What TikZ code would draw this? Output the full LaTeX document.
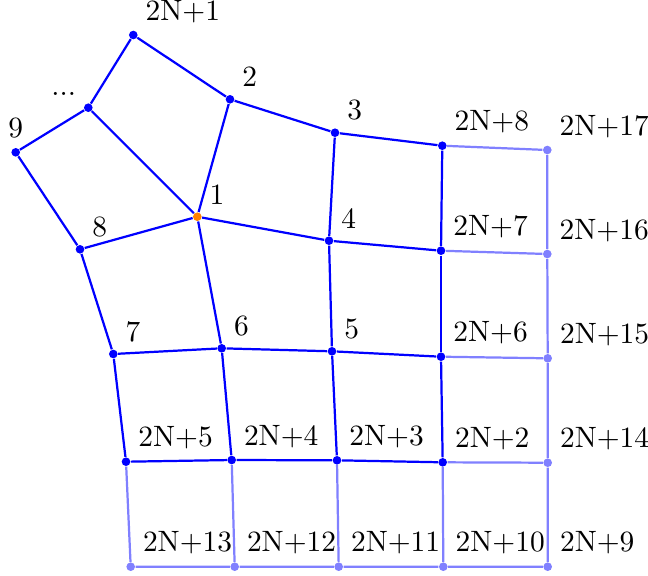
\documentclass[tikz,border=0pt]{standalone}
\begin{document}
\begin{tikzpicture}[x=0.36pt,y=-0.36pt,
  dot/.style={circle,fill=blue,inner sep=0pt,minimum size=3.1pt},
  ldot/.style={circle,fill=blue!50,inner sep=0pt,minimum size=3.1pt},
  odot/.style={circle,fill=orange,inner sep=0pt,minimum size=3.1pt},
  lbl/.style={text=black,font=\fontsize{10.6}{12}\selectfont,inner sep=3pt},
  dk/.style={draw=blue,line width=0.8pt},
  lt/.style={draw=blue!50,line width=0.8pt}]
\useasboundingbox (0,0) rectangle (648,575);
% nodes
\node[dot,label={[lbl]above right:2N+1}] (m1) at (133.3,35) {};
\node[dot,label={[lbl]above right:2}] (n2) at (230,99.3) {};
\node[dot,label={[lbl]above left:...}] (dd) at (88.3,107.7) {};
\node[dot,label={[lbl]above:9}] (n9) at (15.7,152.3) {};
\node[odot,label={[lbl]above right:1}] (n1) at (197.3,216.7) {};
\node[dot,label={[lbl]above right:8}] (n8) at (80,249.3) {};
\node[dot,label={[lbl]above right:3}] (n3) at (335,132.7) {};
\node[dot,label={[lbl]above right:2N+8}] (m8) at (442.3,145.7) {};
\node[ldot,label={[lbl]above right:2N+17}] (m17) at (547.3,150) {};
\node[dot,label={[lbl]above right:4}] (n4) at (329,240.7) {};
\node[dot,label={[lbl]above right:2N+7}] (m7) at (441,250.7) {};
\node[ldot,label={[lbl]above right:2N+16}] (m16) at (547.3,254) {};
\node[dot,label={[lbl]above right:7}] (n7) at (113.3,354) {};
\node[dot,label={[lbl]above right:6}] (n6) at (221.7,348.3) {};
\node[dot,label={[lbl]above right:5}] (n5) at (332,351.3) {};
\node[dot,label={[lbl]above right:2N+6}] (m6) at (441,356.7) {};
\node[ldot,label={[lbl]above right:2N+15}] (m15) at (547.7,358.3) {};
\node[dot,label={[lbl]above right:2N+5}] (m5) at (126,461.7) {};
\node[dot,label={[lbl]above right:2N+4}] (m4) at (231.7,460) {};
\node[dot,label={[lbl]above right:2N+3}] (m3) at (337,460.3) {};
\node[dot,label={[lbl]above right:2N+2}] (m2) at (442.7,462.3) {};
\node[ldot,label={[lbl]above right:2N+14}] (m14) at (547.7,462.7) {};
\node[ldot,label={[lbl]above right:2N+13}] (m13) at (130.7,566.7) {};
\node[ldot,label={[lbl]above right:2N+12}] (m12) at (234.7,566.7) {};
\node[ldot,label={[lbl]above right:2N+11}] (m11) at (338.7,566.7) {};
\node[ldot,label={[lbl]above right:2N+10}] (m10) at (443.3,566.7) {};
\node[ldot,label={[lbl]above right:2N+9}] (m9) at (547.7,566.7) {};
% light edges
\draw[lt] (m8) -- (m17) -- (m16) -- (m15) -- (m14) -- (m9);
\draw[lt] (m7) -- (m16);
\draw[lt] (m6) -- (m15);
\draw[lt] (m2) -- (m14);
\draw[lt] (m2) -- (m10);
\draw[lt] (m3) -- (m11);
\draw[lt] (m4) -- (m12);
\draw[lt] (m5) -- (m13) -- (m12) -- (m11) -- (m10) -- (m9);
% dark edges
\draw[dk] (m1) -- (n2);
\draw[dk] (m1) -- (dd);
\draw[dk] (dd) -- (n9);
\draw[dk] (dd) -- (n1);
\draw[dk] (n9) -- (n8);
\draw[dk] (n2) -- (n1);
\draw[dk] (n2) -- (n3);
\draw[dk] (n3) -- (m8);
\draw[dk] (n3) -- (n4);
\draw[dk] (n1) -- (n8);
\draw[dk] (n1) -- (n4);
\draw[dk] (n1) -- (n6);
\draw[dk] (n4) -- (m7);
\draw[dk] (n4) -- (n5);
\draw[dk] (m8) -- (m7);
\draw[dk] (m7) -- (m6);
\draw[dk] (n8) -- (n7);
\draw[dk] (n7) -- (n6);
\draw[dk] (n6) -- (n5);
\draw[dk] (n5) -- (m6);
\draw[dk] (n7) -- (m5);
\draw[dk] (n6) -- (m4);
\draw[dk] (n5) -- (m3);
\draw[dk] (m6) -- (m2);
\draw[dk] (m5) -- (m4);
\draw[dk] (m4) -- (m3);
\draw[dk] (m3) -- (m2);
\end{tikzpicture}
\end{document}
